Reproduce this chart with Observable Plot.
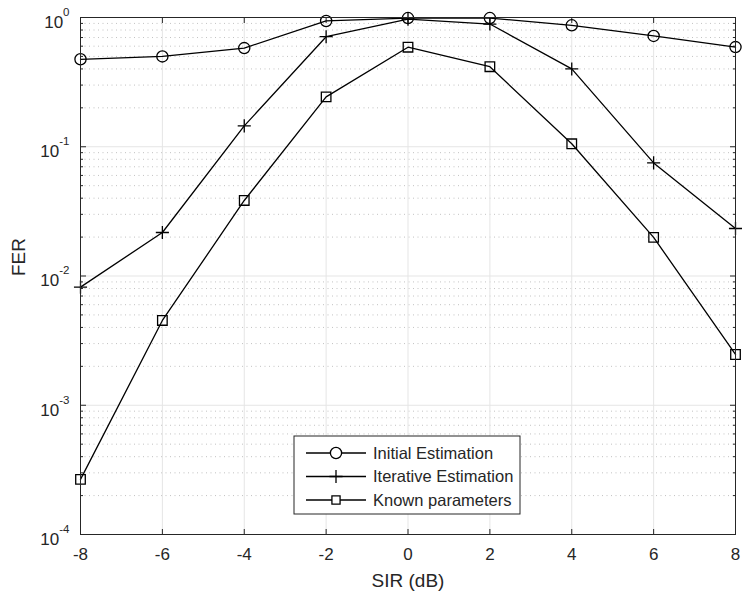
<!DOCTYPE html>
<html>
<head>
<meta charset="utf-8">
<script src="https://cdn.jsdelivr.net/npm/d3@7"></script>
<script src="https://cdn.jsdelivr.net/npm/@observablehq/plot@0.6"></script>
<style>
  html, body { margin: 0; padding: 0; background: #fff; }
  #chart { width: 742px; height: 599px; }
</style>
</head>
<body>
<div id="chart"></div>
<script>
// ---- data ----
const sir = [-8, -6, -4, -2, 0, 2, 4, 6, 8];
const initialEstimation = [0.475, 0.50, 0.58, 0.94, 0.99, 0.99, 0.87, 0.72, 0.59];
const iterativeEstimation = [0.0082, 0.0217, 0.145, 0.71, 0.97, 0.89, 0.40, 0.075, 0.0233];
const knownParameters = [0.000267, 0.00453, 0.0384, 0.243, 0.589, 0.416, 0.1054, 0.0199, 0.00247];
const seriesNames = ["Initial Estimation", "Iterative Estimation", "Known parameters"];
const xTicks = [-8, -6, -4, -2, 0, 2, 4, 6, 8];
const yDecades = [1e-4, 1e-3, 1e-2, 1e-1, 1];
const yDecadeLabels = ["10^-4", "10^-3", "10^-2", "10^-1", "10^0"];
const yMinor = [];
for (let e = -4; e <= -1; e++) for (let m = 2; m <= 9; m++) yMinor.push(m * Math.pow(10, e));

const mk = (vals, name) => sir.map((x, i) => ({x, y: vals[i], series: name}));
const dInit = mk(initialEstimation, seriesNames[0]);
const dIter = mk(iterativeEstimation, seriesNames[1]);
const dKnown = mk(knownParameters, seriesNames[2]);
const all = [...dInit, ...dIter, ...dKnown];

const axisColor = "#262626";
const FONT = "'Liberation Sans', Arial, Helvetica, sans-serif";
const labelOf = new Map(yDecades.map((v, i) => [v, yDecadeLabels[i]]));

const chart = Plot.plot({
  width: 742,
  height: 599,
  marginLeft: 80,
  marginRight: 7,
  marginTop: 17,
  marginBottom: 65,
  style: {fontFamily: FONT, fontSize: "17px", color: axisColor, background: "#fff"},
  x: {domain: [-8, 8]},
  y: {type: "log", domain: [1e-4, 1]},
  marks: [
    // grids
    Plot.ruleY(yMinor, {stroke: "#a8a8a8", strokeWidth: 1, strokeDasharray: "1,3.5", strokeOpacity: 0.7}),
    Plot.ruleY(yDecades, {stroke: "#e5e5e5", strokeWidth: 1}),
    Plot.ruleX(xTicks, {stroke: "#e5e5e5", strokeWidth: 1}),
    // axes (labels)
    Plot.axisX(xTicks, {anchor: "bottom", tickSize: 0, tickPadding: 13, tickFormat: d => String(d), label: null, fontSize: 17, fill: axisColor}),
    Plot.axisY(yDecades, {anchor: "left", tickSize: 0, tickPadding: 11, tickFormat: d => labelOf.get(d), label: null, fontSize: 17, fill: axisColor, dy: 5}),
    // inward tick marks
    Plot.axisX(xTicks, {anchor: "bottom", tickSize: -5, tickFormat: () => null, label: null, stroke: axisColor}),
    Plot.axisX(xTicks, {anchor: "top", tickSize: -5, tickFormat: () => null, label: null, stroke: axisColor}),
    Plot.axisY(yDecades, {anchor: "left", tickSize: -6, tickFormat: () => null, label: null, stroke: axisColor}),
    Plot.axisY(yDecades, {anchor: "right", tickSize: -6, tickFormat: () => null, label: null, stroke: axisColor}),
    Plot.axisY(yMinor, {anchor: "left", tickSize: -3, tickFormat: () => null, label: null, stroke: axisColor}),
    Plot.axisY(yMinor, {anchor: "right", tickSize: -3, tickFormat: () => null, label: null, stroke: axisColor}),
    // axis titles
    Plot.text(["SIR (dB)"], {frameAnchor: "bottom", lineAnchor: "middle", dy: 46, text: d => d, fontSize: 19, fill: axisColor}),
    Plot.text(["FER"], {frameAnchor: "left", lineAnchor: "middle", dx: -62, rotate: -90, text: d => d, fontSize: 19, fill: axisColor}),
    // data lines
    Plot.line(all, {x: "x", y: "y", z: "series", stroke: "#000", strokeWidth: 1.3}),
    Plot.dot(dInit, {x: "x", y: "y", symbol: "circle", r: 5.6, stroke: "#000", strokeWidth: 1.3, fill: "none"}),
    Plot.dot(dIter, {x: "x", y: "y", symbol: "plus", r: 4.3, stroke: "#000", strokeWidth: 1.3, fill: "none"}),
    Plot.dot(dKnown, {x: "x", y: "y", symbol: "square", r: 5.4, stroke: "#000", strokeWidth: 1.3, fill: "none"}),
    Plot.frame({stroke: axisColor, strokeWidth: 1})
  ]
});

// superscript exponents for the y tick labels
d3.select(chart).selectAll("text").each(function () {
  const t = this.textContent;
  const m = /^10\^(-?\d+)$/.exec(t);
  if (m) {
    const sel = d3.select(this);
    sel.text("");
    sel.append("tspan").text("10");
    sel.append("tspan").attr("dy", "-1.05em").style("font-size", "11.5px").text(m[1]);
  }
});

// legend (inside the axes, lower centre)
const svg = d3.select(chart);
const lg = svg.append("g").attr("transform", "translate(294,436)")
  .style("font-family", FONT).style("font-size", "16.5px");
lg.append("rect").attr("width", 226).attr("height", 78).attr("fill", "#fff").attr("stroke", axisColor).attr("stroke-width", 1);
const symbols = [d3.symbolCircle, d3.symbolPlus, d3.symbolSquare];
const sizes = [Math.PI * 5.6 * 5.6, Math.PI * 4.3 * 4.3, Math.PI * 4.6 * 4.6];
seriesNames.forEach((name, i) => {
  const cy = 17 + i * 23.5;
  lg.append("line").attr("x1", 12).attr("x2", 72).attr("y1", cy).attr("y2", cy).attr("stroke", "#000").attr("stroke-width", 1.3);
  lg.append("path").attr("d", d3.symbol(symbols[i], sizes[i])()).attr("transform", `translate(42,${cy})`)
    .attr("fill", "#fff").attr("stroke", "#000").attr("stroke-width", 1.3);
  lg.append("text").attr("x", 79).attr("y", cy).attr("dy", "0.35em")
    .style("text-anchor", "start").attr("fill", axisColor).text(name);
});

document.getElementById("chart").appendChild(chart);
</script>
</body>
</html>
